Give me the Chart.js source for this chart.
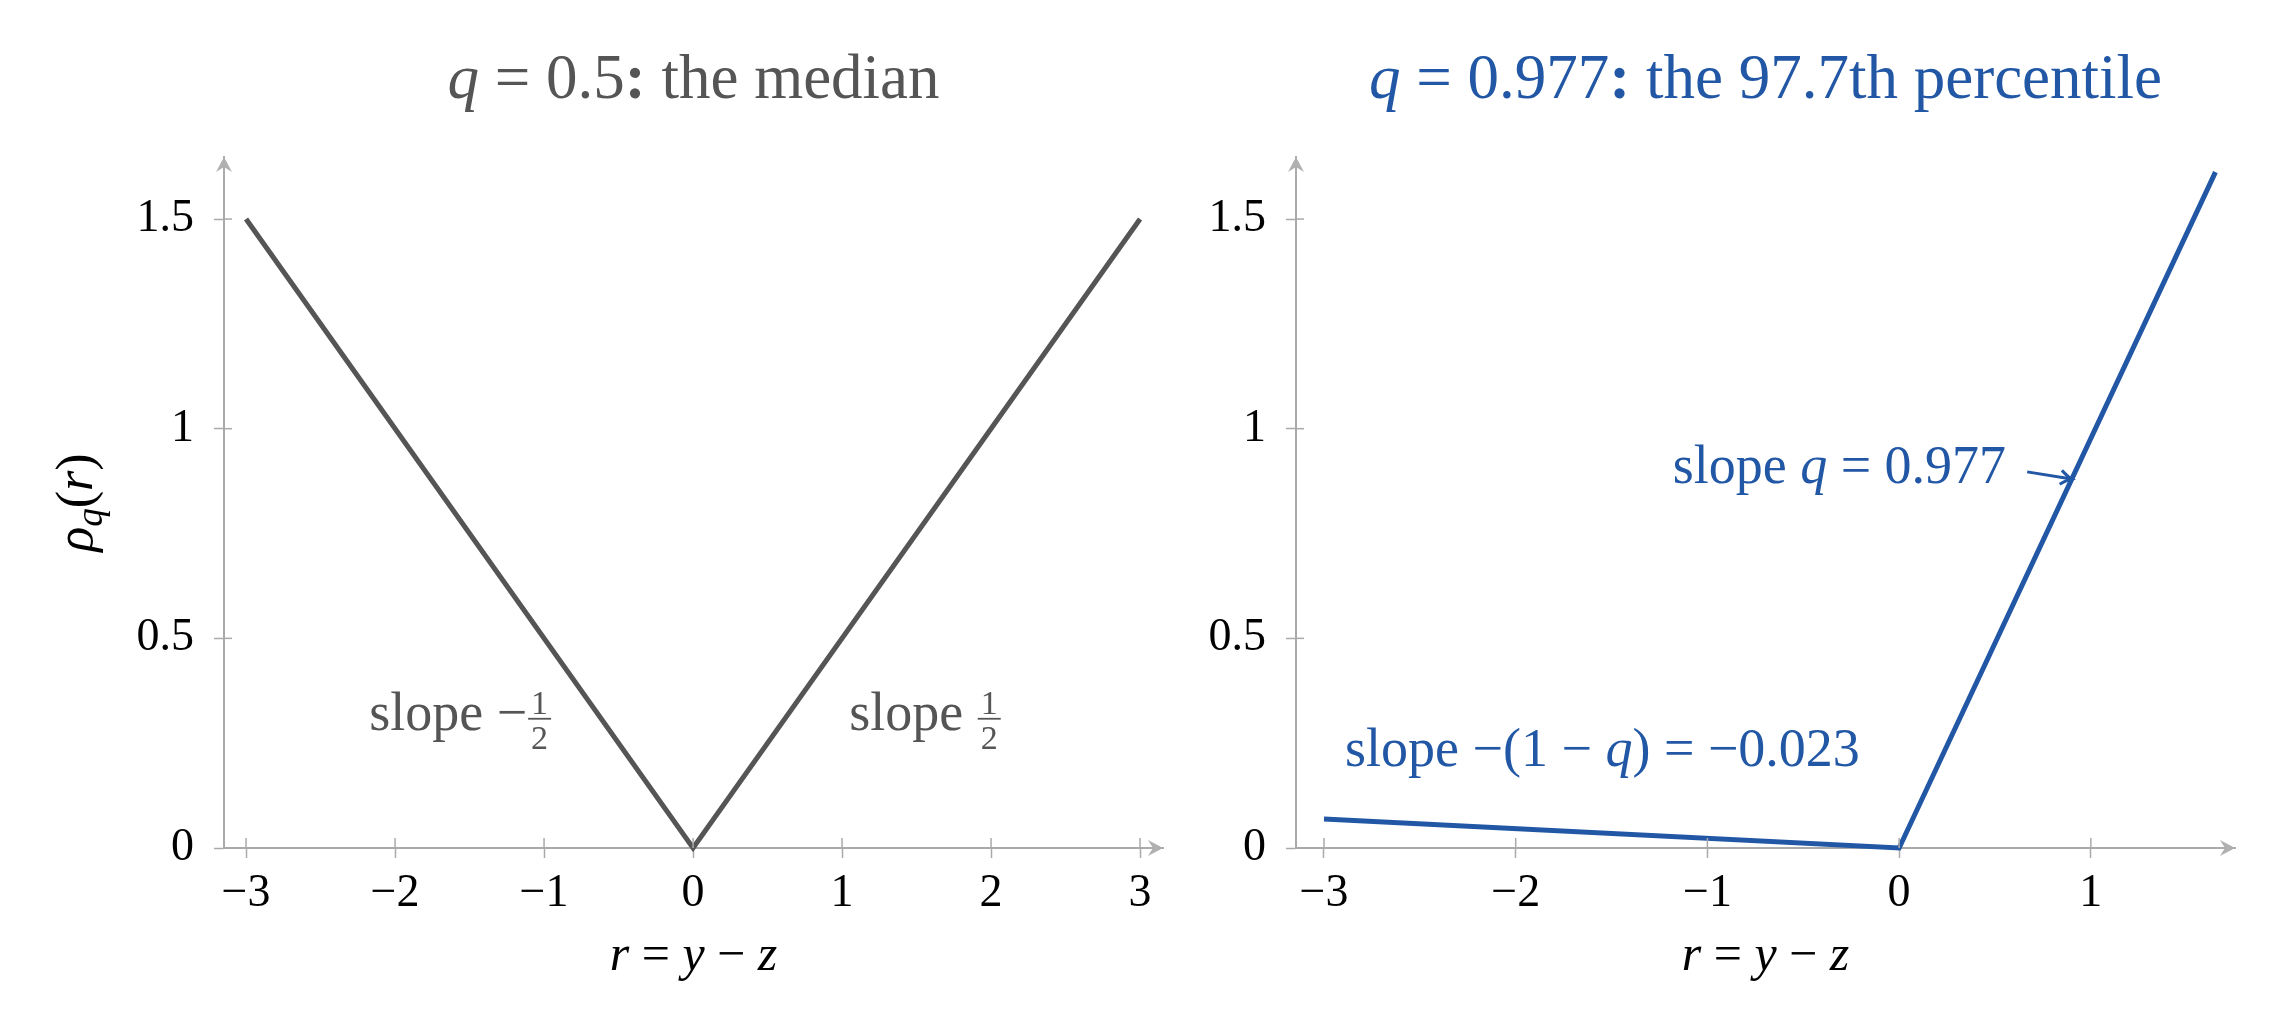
<!DOCTYPE html>
<html>
<head>
<meta charset="utf-8">
<script src="https://cdn.jsdelivr.net/npm/chart.js@4.4.1/dist/chart.umd.min.js"></script>
<style>
  html, body { margin: 0; padding: 0; background: #fff; }
  #wrap { position: relative; width: 2276px; height: 1035px; }
  canvas { position: absolute; left: 0; top: 0; }
</style>
</head>
<body>
<div id="wrap">
  <canvas id="median" width="2276" height="1035"></canvas>
  <canvas id="pct" width="2276" height="1035"></canvas>
</div>
<script>
// values
const medianR = [-3, 0, 3];
const medianRho = [1.5, 0, 1.5];
const pctR = [-3, 0, 1.65];
const pctRho = [0.069, 0, 1.612];

const medianXTicks = [-3, -2, -1, 0, 1, 2, 3];
const pctXTicks = [-3, -2, -1, 0, 1];
const rhoTicks = [0, 0.5, 1, 1.5];

const GRAY = "#555555";
const BLUE = "#2157a5";
const AXIS = "#aaaaaa";
const FONT = '"Liberation Serif", "DejaVu Serif", serif';

function fnt(style, size) {
    return (style ? style + " " : "") + size + "px " + FONT;
}

// measure / draw a list of text runs (mixed upright, italic, fractions)
function runWidth(ctx, r) {
    if (r.frac) {
        ctx.font = fnt("", r.size);
        return Math.max(ctx.measureText(r.frac[0]).width, ctx.measureText(r.frac[1]).width) + 8;
    }
    ctx.font = fnt(r.s, r.size);
    return ctx.measureText(r.t).width;
}

function drawRuns(ctx, runs, x, y, align, color) {
    let total = 0;
    runs.forEach(r => total += runWidth(ctx, r));
    let cx = align === "center" ? x - total / 2 : align === "right" ? x - total : x;
    ctx.save();
    ctx.fillStyle = color;
    ctx.strokeStyle = color;
    ctx.textBaseline = "alphabetic";
    ctx.textAlign = "left";
    runs.forEach(r => {
        const w = runWidth(ctx, r);
        if (r.frac) {
            ctx.font = fnt("", r.size);
            ctx.textAlign = "center";
            ctx.fillText(r.frac[0], cx + w / 2, y - 16);
            ctx.fillText(r.frac[1], cx + w / 2, y + 19);
            ctx.lineWidth = 1.8;
            ctx.beginPath();
            ctx.moveTo(cx + 1, y - 11);
            ctx.lineTo(cx + w - 1, y - 11);
            ctx.stroke();
            ctx.textAlign = "left";
        } else {
            ctx.font = fnt(r.s, r.size);
            ctx.fillText(r.t, cx, y + (r.dy || 0));
        }
        cx += w;
    });
    ctx.restore();
}

// open arrow tip for the annotation pointer
function chevron(ctx, x, y, angle, len, spread) {
    ctx.save();
    ctx.translate(x, y);
    ctx.rotate(angle);
    ctx.beginPath();
    ctx.moveTo(-len, -spread);
    ctx.quadraticCurveTo(-len * 0.35, -spread * 0.2, 0, 0);
    ctx.quadraticCurveTo(-len * 0.35, spread * 0.2, -len, spread);
    ctx.stroke();
    ctx.restore();
}

// filled stealth tip for the axes
function stealth(ctx, x, y, angle) {
    ctx.save();
    ctx.translate(x, y);
    ctx.rotate(angle);
    ctx.beginPath();
    ctx.moveTo(0, 0);
    ctx.lineTo(-15, -8);
    ctx.lineTo(-10, 0);
    ctx.lineTo(-15, 8);
    ctx.closePath();
    ctx.fill();
    ctx.restore();
}

function makeDecor(cfg) {
    return {
        id: "decor_" + cfg.name,
        afterDraw(chart) {
            const { ctx, chartArea: a } = chart;
            const xs = chart.scales.x, ys = chart.scales.y;
            const y0 = ys.getPixelForValue(0);

            ctx.save();
            // inner halves of the tick marks
            ctx.strokeStyle = AXIS;
            ctx.lineWidth = 1.5;
            xs.ticks.forEach(t => {
                const px = xs.getPixelForValue(t.value);
                ctx.beginPath();
                ctx.moveTo(px, y0);
                ctx.lineTo(px, y0 - 10);
                ctx.stroke();
            });
            ys.ticks.forEach(t => {
                const py = ys.getPixelForValue(t.value);
                ctx.beginPath();
                ctx.moveTo(a.left, py);
                ctx.lineTo(a.left + 8, py);
                ctx.stroke();
            });
            // axis arrow heads
            ctx.fillStyle = "#b0b0b0";
            stealth(ctx, a.right, y0, 0);
            stealth(ctx, a.left, a.top, -Math.PI / 2);
            ctx.restore();

            const mid = (a.left + a.right) / 2;
            drawRuns(ctx, cfg.title, mid, 98, "center", cfg.color);
            drawRuns(ctx, [
                { t: "r", s: "italic", size: 50 },
                { t: " = ", s: "", size: 50 },
                { t: "y", s: "italic", size: 50 },
                { t: " − ", s: "", size: 50 },
                { t: "z", s: "italic", size: 50 }
            ], mid, a.bottom + 122, "center", "#000");

            if (cfg.yLabel) {
                ctx.save();
                ctx.translate(92, (a.top + a.bottom) / 2);
                ctx.rotate(-Math.PI / 2);
                drawRuns(ctx, [
                    { t: "ρ", s: "italic", size: 52 },
                    { t: "q", s: "italic", size: 37, dy: 10 },
                    { t: "(", s: "", size: 52 },
                    { t: "r", s: "italic", size: 52 },
                    { t: ")", s: "", size: 52 }
                ], 0, 0, "center", "#000");
                ctx.restore();
            }

            cfg.notes.forEach(n => {
                drawRuns(ctx, n.runs, xs.getPixelForValue(n.x), ys.getPixelForValue(n.y), n.align, cfg.color);
            });

            if (cfg.pointer) {
                const p = cfg.pointer;
                const x1 = xs.getPixelForValue(p.from[0]), y1 = ys.getPixelForValue(p.from[1]);
                const x2 = xs.getPixelForValue(p.to[0]), y2 = ys.getPixelForValue(p.to[1]);
                ctx.save();
                ctx.strokeStyle = cfg.color;
                ctx.lineWidth = 3;
                ctx.beginPath();
                ctx.moveTo(x1, y1);
                ctx.lineTo(x2, y2);
                ctx.stroke();
                chevron(ctx, x2, y2, Math.atan2(y2 - y1, x2 - x1), 11, 7);
                ctx.restore();
            }
        }
    };
}

function buildChart(id, r, rho, xTicks, xmin, xmax, color, pad, decor) {
    const axisBase = {
        type: "linear",
        border: { display: true, color: AXIS, width: 2 },
        grid: { display: true, drawOnChartArea: false, drawTicks: true, tickLength: 10, tickColor: AXIS, tickWidth: 1.5 }
    };
    return new Chart(document.getElementById(id), {
        type: "line",
        data: {
            datasets: [{
                data: r.map((v, i) => ({ x: v, y: rho[i] })),
                borderColor: color,
                borderWidth: 5,
                pointRadius: 0,
                tension: 0,
                fill: false,
                borderJoinStyle: "miter",
                clip: false
            }]
        },
        options: {
            responsive: false,
            animation: false,
            devicePixelRatio: 1,
            layout: { padding: pad },
            plugins: { legend: { display: false }, tooltip: { enabled: false }, title: { display: false } },
            scales: {
                x: Object.assign({}, axisBase, {
                    min: xmin, max: xmax,
                    afterBuildTicks: s => { s.ticks = xTicks.map(v => ({ value: v })); },
                    afterFit: s => { s.height = 187; },
                    ticks: {
                        color: "#000", padding: 8,
                        font: { family: FONT, size: 46 },
                        maxRotation: 0, autoSkip: false,
                        callback: v => (v < 0 ? "−" + Math.abs(v) : String(v))
                    }
                }),
                y: Object.assign({}, axisBase, {
                    min: 0, max: 1.648,
                    afterBuildTicks: s => { s.ticks = rhoTicks.map(v => ({ value: v })); },
                    afterFit: s => { s.width = 224; },
                    ticks: {
                        color: "#000", padding: 20,
                        font: { family: FONT, size: 46 },
                        callback: v => String(v)
                    }
                })
            }
        },
        plugins: [makeDecor(decor)]
    });
}

buildChart("median", medianR, medianRho, medianXTicks, -3.148, 3.154, GRAY,
    { left: 0, top: 157, right: 1113, bottom: 0 },
    {
        name: "median",
        color: GRAY,
        yLabel: true,
        title: [
            { t: "q", s: "italic", size: 63 },
            { t: " = 0.5", s: "", size: 63 },
            { t: ":", s: "bold", size: 63 },
            { t: " the median", s: "", size: 63 }
        ],
        notes: [
            { x: -1.56, y: 0.282, align: "center", runs: [
                { t: "slope −", s: "", size: 54 }, { frac: ["1", "2"], size: 34 }] },
            { x: 1.56, y: 0.282, align: "center", runs: [
                { t: "slope ", s: "", size: 54 }, { frac: ["1", "2"], size: 34 }] }
        ]
    });

buildChart("pct", pctR, pctRho, pctXTicks, -3.146, 1.752, BLUE,
    { left: 1072, top: 157, right: 41, bottom: 0 },
    {
        name: "pct",
        color: BLUE,
        yLabel: false,
        title: [
            { t: "q", s: "italic", size: 63 },
            { t: " = 0.977", s: "", size: 63 },
            { t: ":", s: "bold", size: 63 },
            { t: " the 97.7th percentile", s: "", size: 63 }
        ],
        notes: [
            { x: 0.558, y: 0.871, align: "right", runs: [
                { t: "slope ", s: "", size: 54 }, { t: "q", s: "italic", size: 54 },
                { t: " = 0.977", s: "", size: 54 }] },
            { x: -2.89, y: 0.196, align: "left", runs: [
                { t: "slope −(1 − ", s: "", size: 54 }, { t: "q", s: "italic", size: 54 },
                { t: ") = −0.023", s: "", size: 54 }] }
        ],
        pointer: { from: [0.668, 0.897], to: [0.9, 0.88] }
    });
</script>
</body>
</html>
